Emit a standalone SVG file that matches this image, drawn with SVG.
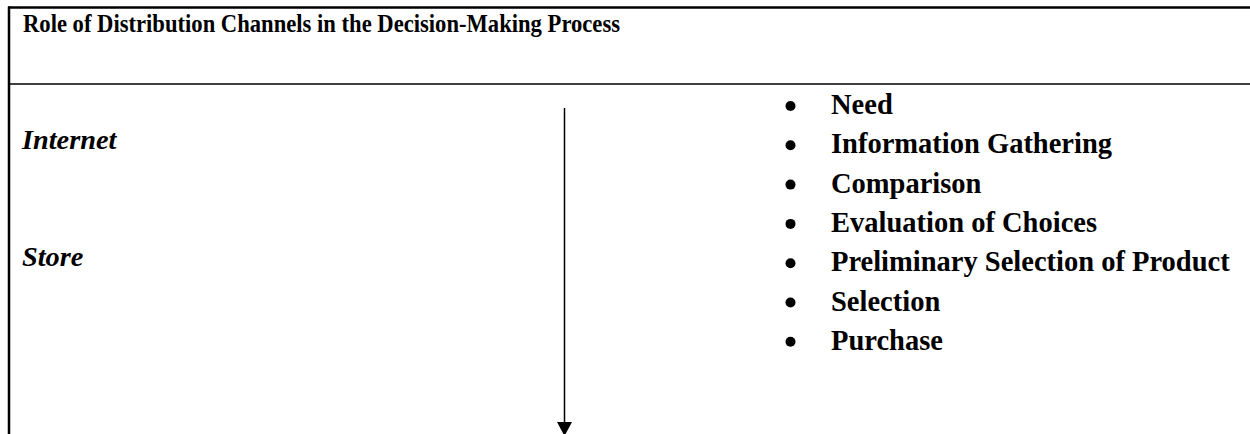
<svg xmlns="http://www.w3.org/2000/svg" width="1250" height="434" viewBox="0 0 1250 434">
<style>
.t{font-family:"Liberation Serif","Times New Roman",serif;font-weight:bold;fill:#000}
.it{font-style:italic;font-size:28.3px}
.li{font-size:28.5px}
.b{fill:#000}
</style>
<rect width="1250" height="434" fill="#fff"/>
<g id="table">
<line x1="8" y1="7.5" x2="1250" y2="7.5" stroke="#000" stroke-width="2.5"/>
<line x1="9" y1="6.5" x2="9" y2="434" stroke="#000" stroke-width="2.5"/>
<line x1="9" y1="84" x2="1250" y2="84" stroke="#000" stroke-width="1.5"/>
</g>
<g id="title"><text class="t" x="23" y="31.5" font-size="25.5" textLength="597" lengthAdjust="spacingAndGlyphs">Role of Distribution Channels in the Decision-Making Process</text></g>
<g id="internet"><text class="t it" x="22" y="149">Internet</text></g>
<g id="store"><text class="t it" x="22" y="266">Store</text></g>
<g id="steps">
<circle class="b" cx="790.5" cy="106" r="5"/><text class="t li" x="831" y="114">Need</text>
<circle class="b" cx="790.5" cy="145.3" r="5"/><text class="t li" x="831" y="153.3">Information Gathering</text>
<circle class="b" cx="790.5" cy="184.6" r="5"/><text class="t li" x="831" y="192.6">Comparison</text>
<circle class="b" cx="790.5" cy="223.9" r="5"/><text class="t li" x="831" y="231.9">Evaluation of Choices</text>
<circle class="b" cx="790.5" cy="263.2" r="5"/><text class="t li" x="831" y="271.2">Preliminary Selection of Product</text>
<circle class="b" cx="790.5" cy="302.5" r="5"/><text class="t li" x="831" y="310.5">Selection</text>
<circle class="b" cx="790.5" cy="341.8" r="5"/><text class="t li" x="831" y="349.8">Purchase</text>
</g>
<g id="connectors">
<line x1="564.5" y1="108" x2="564.5" y2="425" stroke="#000" stroke-width="1.5"/>
<path d="M557,422 L572,422 L564.5,436 Z" fill="#000"/>
</g>
</svg>
